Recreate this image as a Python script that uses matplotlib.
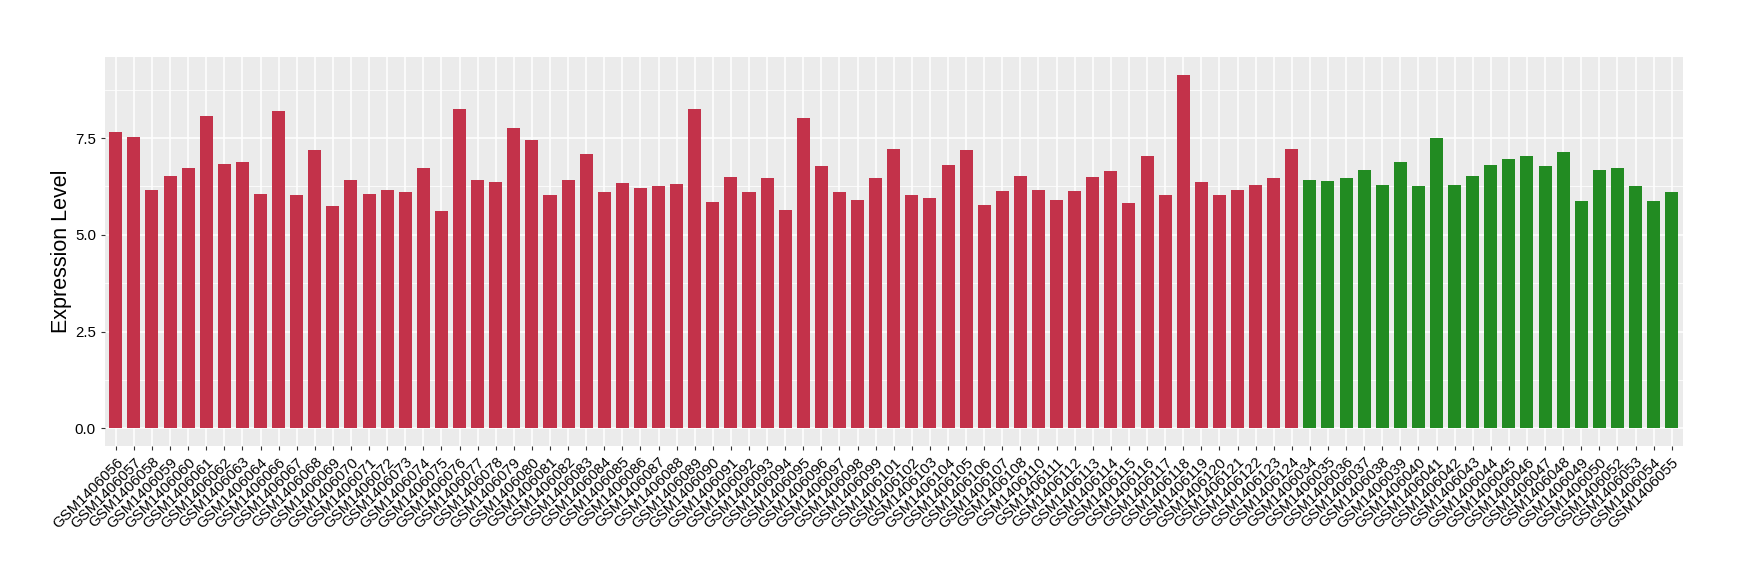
# Bar chart of expression level per GSM sample, red group then green group.
import matplotlib
matplotlib.use("Agg")
import matplotlib.pyplot as plt
import numpy as np

plt.rcParams['font.family'] = ['Liberation Sans', 'DejaVu Sans']

# samples of the first group (red)
red_ids = ["056", "057", "058", "059", "060", "061", "062", "063", "064", "066",
           "067", "068", "069", "070", "071", "072", "073", "074", "075", "076",
           "077", "078", "079", "080", "081", "082", "083", "084", "085", "086",
           "087", "088", "089", "090", "091", "092", "093", "094", "095", "096",
           "097", "098", "099", "101", "102", "103", "104", "105", "106", "107",
           "108", "110", "111", "112", "113", "114", "115", "116", "117", "118",
           "119", "120", "121", "122", "123", "124"]
red_values = [7.65, 7.54, 6.15, 6.51, 6.74, 8.06, 6.82, 6.87, 6.05, 8.21,
              6.02, 7.18, 5.74, 6.41, 6.05, 6.15, 6.10, 6.72, 5.61, 8.26,
              6.41, 6.36, 7.77, 7.44, 6.02, 6.41, 7.10, 6.10, 6.33, 6.20,
              6.25, 6.31, 8.26, 5.84, 6.49, 6.10, 6.46, 5.64, 8.01, 6.77,
              6.10, 5.89, 6.46, 7.21, 6.02, 5.95, 6.80, 7.18, 5.76, 6.13,
              6.51, 6.15, 5.89, 6.13, 6.49, 6.64, 5.82, 7.03, 6.02, 9.14,
              6.36, 6.02, 6.15, 6.28, 6.46, 7.21]

# samples of the second group (green)
green_ids = ["034", "035", "036", "037", "038", "039", "040", "041", "042", "043",
             "044", "045", "046", "047", "048", "049", "050", "052", "053", "054",
             "055"]
green_values = [6.43, 6.38, 6.46, 6.67, 6.28, 6.87, 6.25, 7.49, 6.28, 6.51,
                6.80, 6.95, 7.05, 6.77, 7.13, 5.87, 6.67, 6.72, 6.25, 5.87,
                6.10]

labels = ["GSM1406" + s for s in red_ids + green_ids]
values = red_values + green_values
colors = ["#C3324A"] * len(red_ids) + ["#228B22"] * len(green_ids)
x = np.arange(len(labels))

fig = plt.figure(figsize=(17.4, 5.8), dpi=100)
ax = fig.add_axes([0.0603, 0.231, 0.9067, 0.671])

ax.set_facecolor("#EBEBEB")
ax.bar(x, values, width=0.72, color=colors, zorder=3)

# ggplot-like look
ax.set_xlim(-0.6, len(labels) - 0.4)
ax.set_ylim(-0.457, 9.6)
ax.set_yticks([0, 2.5, 5.0, 7.5])
ax.set_yticklabels(["0.0", "2.5", "5.0", "7.5"])
ax.set_yticks([1.25, 3.75, 6.25, 8.75], minor=True)
ax.set_xticks(x)
ax.set_xticklabels(labels, rotation=45, ha="right", rotation_mode="anchor", fontsize=10.8)
ax.tick_params(axis="both", colors="#333333", length=3, width=0.8, labelcolor="black", labelsize=10.8)
ax.tick_params(axis="y", which="minor", length=0)
ax.grid(which="major", color="white", linewidth=1.1, zorder=0)
ax.grid(which="minor", axis="y", color="white", linewidth=0.55, zorder=0)
for s in ax.spines.values():
    s.set_visible(False)

ax.set_ylabel("Expression Level", fontsize=15.5, labelpad=2)

fig.savefig("out.png", dpi=100)
